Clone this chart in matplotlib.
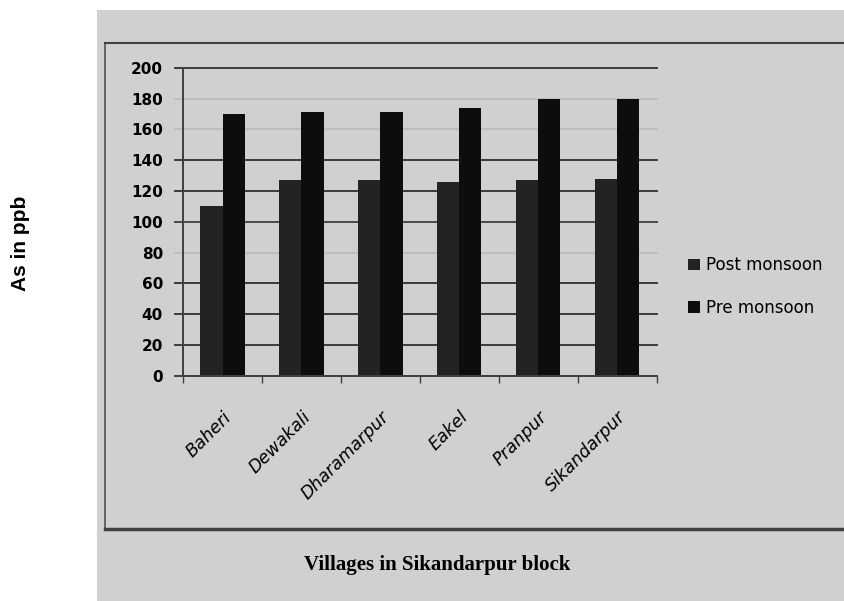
import numpy as np
import matplotlib.pyplot as plt
from matplotlib.patches import Rectangle
from matplotlib.lines import Line2D

# Arsenic levels (ppb) in groundwater of villages in Sikandarpur block
villages = ['Baheri', 'Dewakali', 'Dharamarpur', 'Eakel', 'Pranpur', 'Sikandarpur']
post_monsoon = [110, 127, 127, 126, 127, 128]
pre_monsoon = [170, 171, 171, 174, 180, 180]
y_ticks = [0, 20, 40, 60, 80, 100, 120, 140, 160, 180, 200]

# gridline shades, one per y tick
grid_colors = ['#404040', '#3c3c3c', '#3c3c3c', '#3a3a3a', '#bdbdbd', '#4a4a4a',
               '#3a3a3a', '#3a3a3a', '#bdbdbd', '#bdbdbd', '#3a3a3a']

fig = plt.figure(figsize=(8.45, 6.01), dpi=100)
fig.patch.set_facecolor('white')

# grey chart panel with its inner frame
fig.add_artist(Rectangle((0.1148, 0), 0.8852, 0.9834, transform=fig.transFigure,
                         facecolor='#d0d0d0', edgecolor='none', zorder=0))
fig.add_artist(Line2D([0.1243, 0.1243], [0.1198, 0.9285], transform=fig.transFigure,
                      color='#505050', lw=1.2))
fig.add_artist(Line2D([0.1243, 1.0], [0.9285, 0.9285], transform=fig.transFigure,
                      color='#404040', lw=1.5))
fig.add_artist(Line2D([0.1243, 1.0], [0.1198, 0.1198], transform=fig.transFigure,
                      color='#404040', lw=2.5))

ax = fig.add_axes([0.2166, 0.3744, 0.5606, 0.513])
ax.set_facecolor('none')
ax.set_xlim(-0.5, 5.5)
ax.set_ylim(0, 200)

for y, c in zip(y_ticks, grid_colors):
    ax.plot([-0.017, 1], [y, y], transform=ax.get_yaxis_transform(), color=c,
            lw=1.4, clip_on=False, zorder=1)

x = np.arange(len(villages))
w = 0.28
ax.bar(x - w / 2, post_monsoon, w, color='#232323', zorder=2, label='Post monsoon')
ax.bar(x + w / 2, pre_monsoon, w, color='#0d0d0d', zorder=2, label='Pre monsoon')

for side in ['top', 'right']:
    ax.spines[side].set_visible(False)
for side in ['left', 'bottom']:
    ax.spines[side].set_color('#404040')
    ax.spines[side].set_linewidth(1.4)
    ax.spines[side].set_zorder(3)

ax.set_yticks(y_ticks)
ax.tick_params(axis='y', length=0, pad=14.4, labelsize=11)
for lbl in ax.get_yticklabels():
    lbl.set_fontweight('bold')

ax.set_xticks(np.arange(len(villages) + 1) - 0.5)
ax.set_xticklabels([])
ax.tick_params(axis='x', which='major', direction='out', length=5, width=1, color='#404040')
ax.set_xticks(x, minor=True)
ax.set_xticklabels(villages, minor=True, fontsize=12.5, style='italic')
ax.tick_params(axis='x', which='minor', length=0, pad=23)
plt.setp(ax.get_xticklabels(minor=True), rotation=45, ha='right', rotation_mode='anchor')

fig.legend(loc='center left', bbox_to_anchor=(688 / 845, 1 - 286.5 / 601), frameon=False,
           fontsize=12, handlelength=0.7, handleheight=0.7, handletextpad=0.4,
           labelspacing=1.45, borderpad=0, borderaxespad=0)

fig.text(0.517, 0.060, 'Villages in Sikandarpur block', ha='center', va='center',
         family='Liberation Serif', fontweight='bold', fontsize=15)
fig.text(0.0237, 0.5957, 'As in ppb', ha='center', va='center', rotation=90,
         family='Liberation Sans', fontweight='bold', fontsize=15)

fig.savefig('out.png', dpi=100)
